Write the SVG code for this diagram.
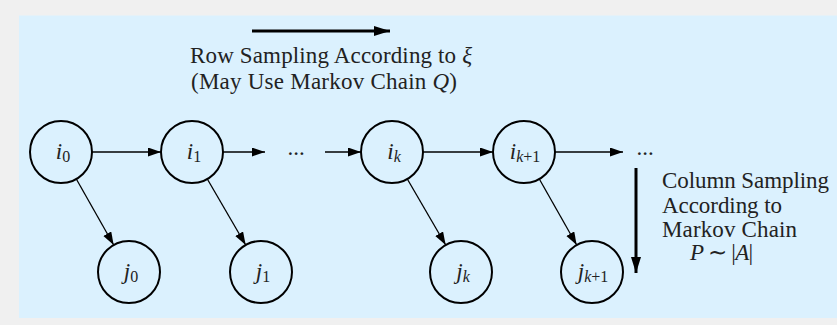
<svg xmlns="http://www.w3.org/2000/svg" width="837" height="325" viewBox="0 0 837 325">
<defs>
<style>
.node circle{fill:none;stroke:#000;stroke-width:2}
.lbl{font-family:"Liberation Serif",serif;font-size:23px;fill:#222;text-anchor:middle}
.txt{font-family:"Liberation Serif",serif;font-size:23px;fill:#222}
.it{font-style:italic}
.sub{font-size:16px}
.thin{stroke:#000;stroke-width:1.3;fill:none;marker-end:url(#ah)}
.thick{stroke:#000;stroke-width:3;fill:none;marker-end:url(#ahb)}
</style>
<marker id="ah" markerUnits="userSpaceOnUse" markerWidth="14" markerHeight="10" refX="13" refY="4.5" orient="auto">
<path d="M0,0 L13,4.5 L0,9 z" fill="#000"/>
</marker>
<marker id="ahb" markerUnits="userSpaceOnUse" markerWidth="18" markerHeight="12" refX="16" refY="5" orient="auto">
<path d="M0,0 L16,5 L0,10 z" fill="#000"/>
</marker>
</defs>
<rect x="0" y="0" width="837" height="325" fill="#f0f0f0"/>
<rect x="19" y="15.5" width="818" height="302.5" fill="#dbf1fe"/>

<g id="connectors">
<line class="thin" x1="92" y1="152" x2="161" y2="152"/>
<line class="thin" x1="223" y1="152" x2="265" y2="152"/>
<line class="thin" x1="325" y1="152" x2="361" y2="152"/>
<line class="thin" x1="423" y1="152" x2="493" y2="152"/>
<line class="thin" x1="555" y1="152" x2="623" y2="152"/>
<line class="thin" x1="76.3" y1="179" x2="113.7" y2="245"/>
<line class="thin" x1="207.3" y1="179" x2="245.7" y2="245"/>
<line class="thin" x1="407.3" y1="179" x2="445.7" y2="245"/>
<line class="thin" x1="539.3" y1="179" x2="576.7" y2="245"/>
<line class="thick" x1="252" y1="31" x2="390" y2="31"/>
<line class="thick" x1="636" y1="168" x2="636" y2="273"/>
</g>

<g id="i0" class="node"><circle cx="61" cy="152" r="31"/><text class="lbl" x="63" y="159"><tspan class="it">i</tspan><tspan class="sub" dy="3">0</tspan></text></g>
<g id="i1" class="node"><circle cx="192" cy="152" r="31"/><text class="lbl" x="194" y="159"><tspan class="it">i</tspan><tspan class="sub" dy="3">1</tspan></text></g>
<g id="ik" class="node"><circle cx="392" cy="152" r="31"/><text class="lbl" x="394" y="159"><tspan class="it">i</tspan><tspan class="sub it" dy="3">k</tspan></text></g>
<g id="ik1" class="node"><circle cx="524" cy="152" r="31"/><text class="lbl" x="525" y="159"><tspan class="it">i</tspan><tspan class="sub" dy="3"><tspan class="it">k</tspan>+1</tspan></text></g>
<g id="j0" class="node"><circle cx="129" cy="272" r="31"/><text class="lbl" x="131" y="279"><tspan class="it">j</tspan><tspan class="sub" dy="3">0</tspan></text></g>
<g id="j1" class="node"><circle cx="261" cy="272" r="31"/><text class="lbl" x="263" y="279"><tspan class="it">j</tspan><tspan class="sub" dy="3">1</tspan></text></g>
<g id="jk" class="node"><circle cx="461" cy="272" r="31"/><text class="lbl" x="463" y="279"><tspan class="it">j</tspan><tspan class="sub it" dy="3">k</tspan></text></g>
<g id="jk1" class="node"><circle cx="592" cy="272" r="31"/><text class="lbl" x="593" y="279"><tspan class="it">j</tspan><tspan class="sub" dy="3"><tspan class="it">k</tspan>+1</tspan></text></g>

<g id="dots1"><text class="lbl" x="296" y="155">...</text></g>
<g id="dots2"><text class="lbl" x="645" y="155">...</text></g>

<g id="row-label">
<text class="txt" x="190" y="63" textLength="282">Row Sampling According to <tspan class="it">ξ</tspan></text>
<text class="txt" x="191" y="89" textLength="266">(May Use Markov Chain <tspan class="it">Q</tspan>)</text>
</g>
<g id="col-label">
<text class="txt" x="662" y="188" textLength="167">Column Sampling</text>
<text class="txt" x="662" y="212.5" textLength="120">According to</text>
<text class="txt" x="662" y="237" textLength="135">Markov Chain</text>
<text class="txt" x="690" y="260" textLength="63"><tspan class="it">P</tspan> ∼ |<tspan class="it">A</tspan>|</text>
</g>
</svg>
